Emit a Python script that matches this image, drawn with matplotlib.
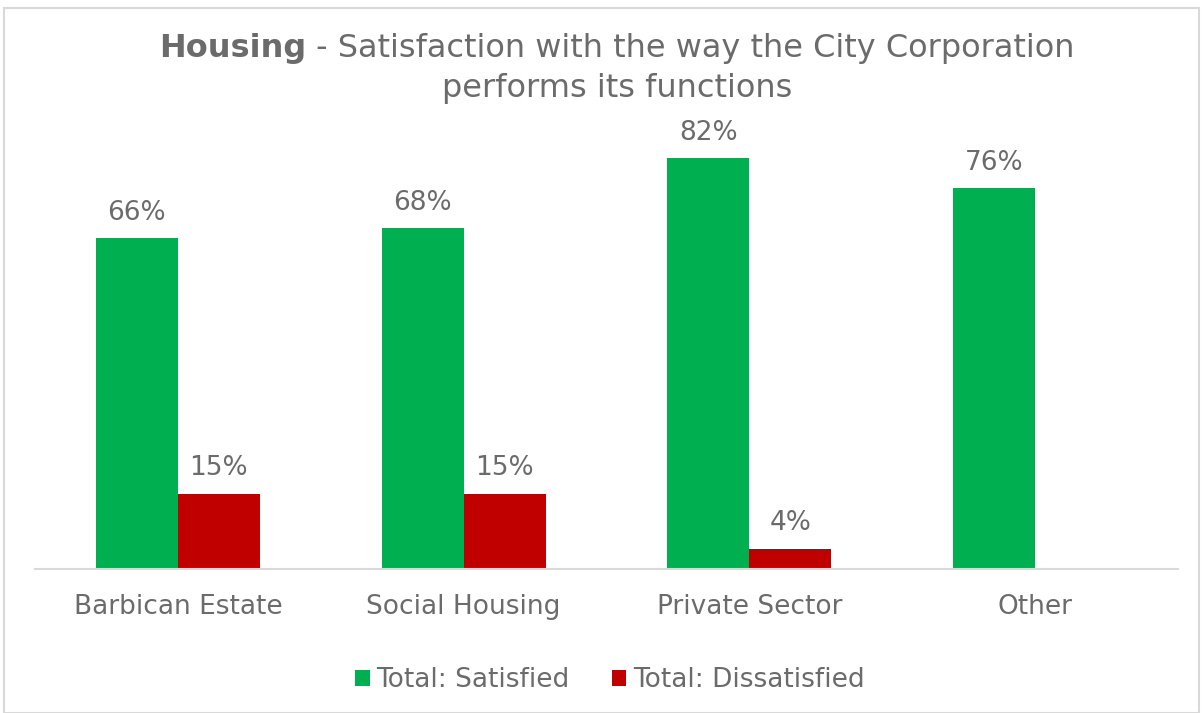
import numpy as np
import matplotlib.pyplot as plt
from matplotlib.patches import Rectangle

categories = ['Barbican Estate', 'Social Housing', 'Private Sector', 'Other']
satisfied = [66, 68, 82, 76]
dissatisfied = [15, 15, 4, None]
series_names = ['Total: Satisfied', 'Total: Dissatisfied']

GREEN = '#00B050'
RED = '#C00000'
GREY = '#6b6b6b'

fig = plt.figure(figsize=(12.03, 7.13), dpi=100)
ax = fig.add_axes([35 / 1203, 1 - 569 / 713, 1143 / 1203, 455 / 713])

x = np.arange(len(categories))
w = 0.287
sat = np.array(satisfied, dtype=float)
dis = np.array([np.nan if v is None else v for v in dissatisfied], dtype=float)

b1 = ax.bar(x - w / 2, sat, w, color=GREEN, label=series_names[0])
b2 = ax.bar(x + w / 2, dis, w, color=RED, label=series_names[1])

for bars, vals in [(b1, sat), (b2, dis)]:
    for rect, v in zip(bars, vals):
        if np.isnan(v):
            continue
        ax.annotate(f'{v:.0f}%', (rect.get_x() + rect.get_width() / 2, v),
                    xytext=(0, 9), textcoords='offset points',
                    ha='center', va='bottom', fontsize=19, color=GREY)

ax.set_xlim(-0.5, len(categories) - 0.5)
ax.set_ylim(0, 90.8)
ax.set_yticks([])
ax.set_xticks(x)
ax.set_xticklabels(categories, fontsize=19, color=GREY)
ax.tick_params(axis='x', length=0, pad=18)
for s in ['top', 'right', 'left']:
    ax.spines[s].set_visible(False)
ax.spines['bottom'].set_color('#d9d9d9')
ax.spines['bottom'].set_linewidth(1.5)

leg = fig.legend(loc='center', bbox_to_anchor=(610 / 1203, 1 - 680 / 713),
                 ncol=2, frameon=False, fontsize=19, handlelength=0.55,
                 handleheight=0.55, handletextpad=0.25, columnspacing=1.6)
for t in leg.get_texts():
    t.set_color(GREY)

# title: bold first word, regular rest
renderer = fig.canvas.get_renderer()
y1 = 1 - 48 / 713
t1 = fig.text(0, y1, 'Housing', fontsize=23, fontweight='bold', color=GREY, va='center')
t2 = fig.text(0, y1, ' - Satisfaction with the way the City Corporation', fontsize=23,
              color=GREY, va='center')
w1 = t1.get_window_extent(renderer).width
w2 = t2.get_window_extent(renderer).width
left = 617 - (w1 + w2) / 2
t1.set_x(left / 1203)
t2.set_x((left + w1) / 1203)
fig.text(617 / 1203, 1 - 88 / 713, 'performs its functions', fontsize=23,
         color=GREY, ha='center', va='center')

fig.patches.append(Rectangle((4 / 1203, 0), 1195 / 1203, 1 - 8 / 713,
                             transform=fig.transFigure, fill=False,
                             edgecolor='#d9d9d9', linewidth=1.5))

fig.savefig('out.png', dpi=100)
